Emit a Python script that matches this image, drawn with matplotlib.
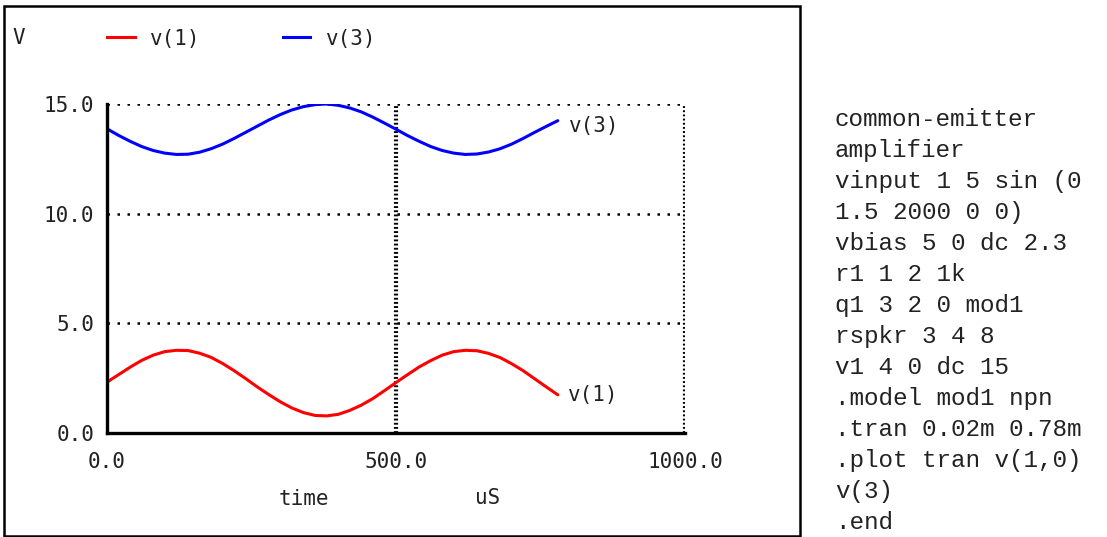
import matplotlib
matplotlib.use("Agg")
import matplotlib.pyplot as plt
from matplotlib.lines import Line2D
from matplotlib.patches import Rectangle

# time in uS (0.02m step)
t_us = [0, 20, 40, 60, 80, 100, 120, 140, 160, 180,
        200, 220, 240, 260, 280, 300, 320, 340, 360, 380,
        400, 420, 440, 460, 480, 500, 520, 540, 560, 580,
        600, 620, 640, 660, 680, 700, 720, 740, 760, 780]

v1 = [2.32, 2.66, 3.00, 3.31, 3.55, 3.71, 3.77, 3.76, 3.64, 3.45,
      3.17, 2.84, 2.48, 2.10, 1.75, 1.42, 1.14, 0.93, 0.80, 0.78,
      0.85, 1.03, 1.27, 1.57, 1.93, 2.30, 2.66, 3.01, 3.30, 3.55,
      3.71, 3.77, 3.75, 3.63, 3.44, 3.16, 2.84, 2.47, 2.10, 1.74]

v3 = [13.87, 13.57, 13.30, 13.06, 12.88, 12.76, 12.70, 12.71, 12.80, 12.96,
      13.17, 13.43, 13.71, 13.99, 14.27, 14.52, 14.73, 14.88, 14.97, 15.00,
      14.94, 14.82, 14.64, 14.40, 14.13, 13.85, 13.56, 13.30, 13.06, 12.88,
      12.76, 12.70, 12.72, 12.81, 12.96, 13.17, 13.43, 13.71, 13.98, 14.24]

yticks = [0, 5, 10, 15]
ytick_labels = ["0.0", "5.0", "10.0", "15.0"]
xticks = [0, 500, 1000]
xtick_labels = ["0.0", "500.0", "1000.0"]

netlist = ["common-emitter", "amplifier", "vinput 1 5 sin (0", "1.5 2000 0 0)",
           "vbias 5 0 dc 2.3", "r1 1 2 1k", "q1 3 2 0 mod1", "rspkr 3 4 8",
           "v1 4 0 dc 15", ".model mod1 npn", ".tran 0.02m 0.78m",
           ".plot tran v(1,0)", "v(3)", ".end"]

W, H = 1107, 537
fig = plt.figure(figsize=(W / 100, H / 100), dpi=100)
fx = lambda px: px / W
fy = lambda py: (H - py) / H

mono = "DejaVu Sans Mono"
tc = "#222222"
fs = 15

ax = fig.add_axes([fx(107), fy(433), fx(685) - fx(107), fy(104) - fy(433)])
ax.plot(t_us, v1, color="#ff0000", lw=2.2, solid_capstyle="round")
ax.plot(t_us, v3, color="#0000ff", lw=2.2, solid_capstyle="round")
ax.set_xlim(0, 1000)
ax.set_ylim(0, 15)

# grid: horizontal sparse dots, vertical dense dots
for y in [5, 10, 15]:
    ax.axhline(y, color="black", lw=1.8, linestyle=(0, (1, 3.0)), zorder=0)
for x in [500, 1000]:
    ax.axvline(x, color="black", lw=3.0, linestyle=(0, (0.45, 0.55)), zorder=0)

for s in ["top", "right"]:
    ax.spines[s].set_visible(False)
for s in ["left", "bottom"]:
    ax.spines[s].set_linewidth(2.4)
    ax.spines[s].set_color("black")

ax.set_yticks(yticks)
ax.set_yticklabels(ytick_labels, fontfamily=mono, fontsize=fs, color=tc)
ax.set_xticks(xticks)
ax.set_xticklabels(xtick_labels, fontfamily=mono, fontsize=fs, color=tc)
ax.tick_params(axis="y", length=0, pad=9)
ax.tick_params(axis="x", length=0, pad=14)

# end-of-trace labels
ax.annotate("v(3)", (t_us[-1], v3[-1]), xytext=(8, -4), textcoords="offset points",
            va="center", ha="left", fontfamily=mono, fontsize=fs, color=tc)
ax.annotate("v(1)", (t_us[-1], v1[-1]), xytext=(7, 0), textcoords="offset points",
            va="center", ha="left", fontfamily=mono, fontsize=fs, color=tc)

# x axis label in two parts
fig.text(fx(304), fy(499), "time", ha="center", va="center", fontfamily=mono, fontsize=fs, color=tc)
fig.text(fx(488), fy(498), "uS", ha="center", va="center", fontfamily=mono, fontsize=fs, color=tc)

# unit + legend across the top
fig.text(fx(12), fy(38), "V", ha="left", va="center", fontfamily=mono, fontsize=fs, color=tc)
fig.add_artist(Line2D([fx(107), fx(135)], [fy(37), fy(37)], color="#ff0000", lw=2.2, transform=fig.transFigure))
fig.text(fx(150), fy(39), "v(1)", ha="left", va="center", fontfamily=mono, fontsize=fs, color=tc)
fig.add_artist(Line2D([fx(283), fx(310)], [fy(37), fy(37)], color="#0000ff", lw=2.2, transform=fig.transFigure))
fig.text(fx(326), fy(39), "v(3)", ha="left", va="center", fontfamily=mono, fontsize=fs, color=tc)

# frame around the plot panel
fig.add_artist(Rectangle((fx(4), fy(536)), fx(800) - fx(4), fy(6) - fy(536), fill=False,
                         edgecolor="black", lw=1.8, transform=fig.transFigure))

# netlist on the right
for i, line in enumerate(netlist):
    fig.text(fx(835), fy(126 + i * 31.0), line, ha="left", va="baseline",
             fontfamily="Liberation Mono", fontsize=17.5, color="#222222")

fig.savefig("out.png", dpi=100, facecolor="white")
